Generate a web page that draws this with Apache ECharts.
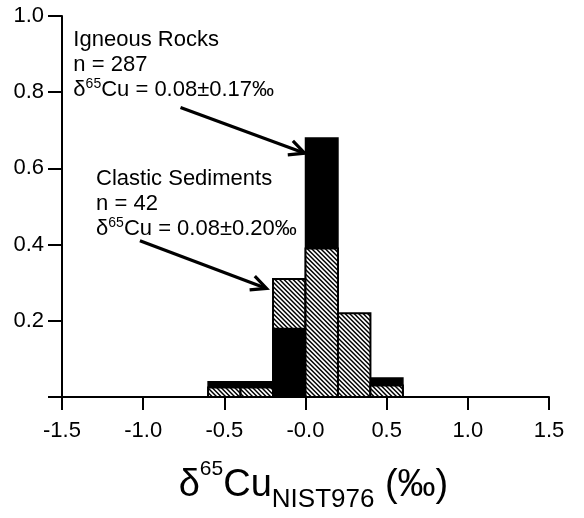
<!DOCTYPE html>
<html>
<head>
<meta charset="utf-8">
<script src="https://cdn.jsdelivr.net/npm/echarts@6/dist/echarts.min.js"></script>
<style>
  html, body { margin: 0; padding: 0; background: #fff; }
  #chart { width: 584px; height: 518px; }
</style>
</head>
<body>
<div id="chart"></div>
<script>
// Histogram bins (left edges, ‰) and relative frequencies
const binWidth = 0.2;
const binStarts = [-0.6, -0.4, -0.2, 0.0, 0.2, 0.4];
const igneousFreq = [0.04, 0.04, 0.18, 0.68, 0.0, 0.05];
const clasticFreq = [0.025, 0.025, 0.31, 0.39, 0.22, 0.03];

const xTicks = [-1.5, -1.0, -0.5, 0.0, 0.5, 1.0, 1.5];
const yTicks = [0.2, 0.4, 0.6, 0.8, 1.0];

const FONT = 'Liberation Sans';

// Diagonal hatching pattern for the clastic sediment bars
function makeHatch() {
  const s = 4.5;
  const c = document.createElement('canvas');
  c.width = 9; c.height = 9;
  const ctx = c.getContext('2d');
  ctx.fillStyle = '#fff';
  ctx.fillRect(0, 0, 9, 9);
  ctx.strokeStyle = '#000';
  ctx.lineWidth = 1.5;
  ctx.beginPath();
  for (let k = -2; k <= 2; k++) {
    ctx.moveTo(k * s - 1, -1);
    ctx.lineTo(k * s + 10, 10);
  }
  ctx.stroke();
  return c;
}
const hatchImage = makeHatch();

const binData = binStarts.map((x, i) => [x, igneousFreq[i], clasticFreq[i]]);

const chart = echarts.init(document.getElementById('chart'), null, { renderer: 'canvas' });

chart.setOption({
  animation: false,
  backgroundColor: '#fff',
  grid: { left: 62, right: 35, top: 16, bottom: 118 },
  xAxis: {
    type: 'value',
    min: -1.5, max: 1.5, interval: 0.5,
    splitLine: { show: false },
    axisLine: { show: true, onZero: false, lineStyle: { color: '#000', width: 2 } },
    axisTick: { show: true, inside: false, length: 13, lineStyle: { color: '#000', width: 2 } },
    axisLabel: {
      color: '#000', fontFamily: FONT, fontSize: 22, margin: 23,
      formatter: v => (Math.abs(v) < 1e-9 ? '-0.0' : v.toFixed(1))
    },
    name: '{m|δ}{sup|65}{m|Cu}{sub|NIST976}{m| (‰)}',
    nameLocation: 'middle',
    nameGap: 62,
    nameTextStyle: {
      fontFamily: FONT,
      lineHeight: 54,
      padding: [0, 0, 0, 16],
      rich: {
        m: { fontFamily: FONT, fontSize: 38, lineHeight: 54, color: '#000' },
        sup: { fontFamily: FONT, fontSize: 21, lineHeight: 38, verticalAlign: 'top', color: '#000' },
        sub: { fontFamily: FONT, fontSize: 26, lineHeight: 26, verticalAlign: 'bottom', color: '#000' }
      }
    }
  },
  yAxis: {
    type: 'value',
    min: 0, max: 1.0, interval: 0.2,
    splitLine: { show: false },
    axisLine: { show: true, onZero: false, lineStyle: { color: '#000', width: 2 } },
    axisTick: { show: true, inside: false, length: 14, lineStyle: { color: '#000', width: 2 } },
    axisLabel: {
      color: '#000', fontFamily: FONT, fontSize: 22, margin: 18,
      formatter: v => (yTicks.some(t => Math.abs(t - v) < 1e-9) ? v.toFixed(1) : '')
    }
  },
  series: [{
    type: 'custom',
    data: binData,
    encode: { x: 0, y: [1, 2] },
    renderItem: function (params, api) {
      const x0 = api.value(0);
      const x1 = x0 + binWidth;
      const bar = (v, style) => {
        const pTop = api.coord([x0, v]);
        const pBot = api.coord([x1, 0]);
        return {
          type: 'rect',
          shape: { x: pTop[0], y: pTop[1], width: pBot[0] - pTop[0], height: pBot[1] - pTop[1] },
          style: style
        };
      };
      const solid = { fill: '#000', stroke: '#000', lineWidth: 1.5 };
      const hatched = { fill: { image: hatchImage, repeat: 'repeat' }, stroke: '#000', lineWidth: 2 };
      // taller bar behind, shorter bar in front
      const parts = [[api.value(1), solid], [api.value(2), hatched]]
        .filter(p => p[0] > 0)
        .sort((a, b) => b[0] - a[0]);
      return { type: 'group', children: parts.map(p => bar(p[0], p[1])) };
    }
  }]
});

// Annotations anchored in data coordinates
const px = (x, y) => chart.convertToPixel({ gridIndex: 0 }, [x, y]);

function arrow(from, to) {
  const a = px(from[0], from[1]);
  const b = px(to[0], to[1]);
  const ang = Math.atan2(b[1] - a[1], b[0] - a[0]);
  const L = 17, spread = 0.45;
  const h1 = [b[0] - L * Math.cos(ang - spread), b[1] - L * Math.sin(ang - spread)];
  const h2 = [b[0] - L * Math.cos(ang + spread), b[1] - L * Math.sin(ang + spread)];
  const st = { stroke: '#000', lineWidth: 3.2, lineCap: 'butt', lineJoin: 'miter', fill: null };
  return [
    { type: 'polyline', shape: { points: [a, [b[0] - 2 * Math.cos(ang), b[1] - 2 * Math.sin(ang)]] }, style: st, z: 10 },
    { type: 'polyline', shape: { points: [h1, b, h2] }, style: st, z: 10 }
  ];
}

const noteRich = {
  m: { fontFamily: FONT, fontSize: 22, lineHeight: 25, color: '#000' },
  sup: { fontFamily: FONT, fontSize: 14, lineHeight: 16, verticalAlign: 'top', color: '#000' }
};

function note(x, y, lines) {
  const p = px(x, y);
  return {
    type: 'text',
    x: p[0], y: p[1],
    z: 10,
    style: {
      text: lines.join('\n'),
      rich: noteRich,
      verticalAlign: 'top',
      align: 'left'
    }
  };
}

chart.setOption({
  graphic: [
    note(-1.43, 0.97, [
      '{m|Igneous Rocks}',
      '{m|n = 287}',
      '{m|δ}{sup|65}{m|Cu = 0.08±0.17‰}'
    ]),
    note(-1.29, 0.605, [
      '{m|Clastic Sediments}',
      '{m|n = 42}',
      '{m|δ}{sup|65}{m|Cu = 0.08±0.20‰}'
    ]),
    ...arrow([-0.77, 0.76], [-0.005, 0.64]),
    ...arrow([-1.02, 0.41], [-0.24, 0.285])
  ]
});
</script>
</body>
</html>
